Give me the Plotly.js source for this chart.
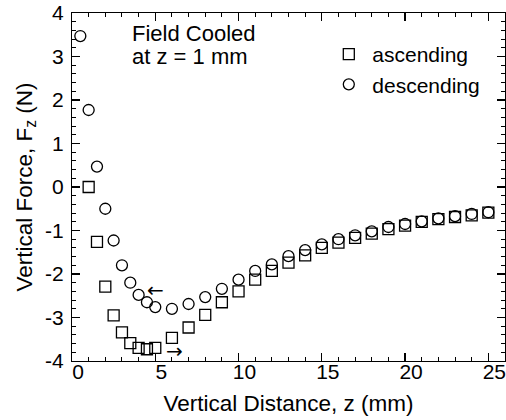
<!DOCTYPE html>
<html>
<head>
<meta charset="utf-8">
<script src="https://cdn.plot.ly/plotly-3.0.1.min.js"></script>
<style>html,body{margin:0;padding:0;background:#fff;}#chart{width:506px;height:420px;}</style>
</head>
<body>
<div id="chart"></div>
<script>
// Ascending (squares)
var ascZ = [1, 1.5, 2, 2.5, 3, 3.5, 4, 4.5, 5, 6, 7, 8, 9, 10, 11, 12, 13, 14, 15, 16, 17, 18, 19, 20, 21, 22, 23, 24, 25];
var ascF = [0, -1.26, -2.29, -2.95, -3.34, -3.59, -3.70, -3.73, -3.70, -3.47, -3.23, -2.94, -2.65, -2.40, -2.13, -1.93, -1.74, -1.57, -1.40, -1.28, -1.17, -1.07, -0.97, -0.89, -0.80, -0.74, -0.69, -0.65, -0.59];
// Descending (circles)
var desZ = [0.5, 1, 1.5, 2, 2.5, 3, 3.5, 4, 4.5, 5, 6, 7, 8, 9, 10, 11, 12, 13, 14, 15, 16, 17, 18, 19, 20, 21, 22, 23, 24, 25];
var desF = [3.47, 1.77, 0.47, -0.50, -1.23, -1.80, -2.20, -2.48, -2.65, -2.76, -2.80, -2.69, -2.53, -2.34, -2.13, -1.93, -1.78, -1.59, -1.45, -1.32, -1.20, -1.11, -1.02, -0.92, -0.85, -0.79, -0.72, -0.67, -0.62, -0.58];
var seriesNames = ["ascending", "descending"];
var xTicks = [0, 5, 10, 15, 20, 25];
var yTicks = [-4, -3, -2, -1, 0, 1, 2, 3, 4];
var noteLines = ["Field Cooled", "at z = 1 mm"];

var FONT = "Liberation Sans, Arial, Helvetica, sans-serif";
var ARROWFONT = "DejaVu Sans, sans-serif";

var traces = [
  {x: ascZ, y: ascF, name: seriesNames[0], type: "scatter", mode: "markers",
   marker: {symbol: "square-open", size: 11, color: "#000", line: {width: 1.3, color: "#000"}}},
  {x: desZ, y: desF, name: seriesNames[1], type: "scatter", mode: "markers",
   marker: {symbol: "circle-open", size: 11, color: "#000", line: {width: 1.3, color: "#000"}}}
];

var axisCommon = {
  showline: true, linecolor: "#000", linewidth: 1.2, mirror: "ticks",
  ticks: "inside", ticklen: 8, tickwidth: 1.2, tickcolor: "#000",
  showgrid: false, zeroline: false, ticklabeloverflow: "allow",
  tickfont: {family: FONT, size: 21, color: "#000"}
};

var layout = {
  width: 506, height: 420,
  margin: {l: 72, r: 1, t: 13, b: 59},
  paper_bgcolor: "#fff", plot_bgcolor: "#fff",
  font: {family: FONT, color: "#000"},
  xaxis: Object.assign({}, axisCommon, {
    range: [0, 26], tickvals: xTicks, ticktext: xTicks.map(String),
    ticklabelshift: 6, ticklabelstandoff: -8,
    minor: {dtick: 1, ticks: "inside", ticklen: 4, tickwidth: 1, tickcolor: "#000"},
    title: {text: "Vertical Distance, z (mm)", font: {family: FONT, size: 22.5, color: "#000"}, standoff: 12}
  }),
  yaxis: Object.assign({}, axisCommon, {
    range: [-4, 4], tickvals: yTicks, ticktext: yTicks.map(String),
    ticklabelstandoff: 3,
    minor: {dtick: 0.2, ticks: "inside", ticklen: 4, tickwidth: 1, tickcolor: "#000"},
    title: {text: "Vertical Force, F<sub>z</sub> (N)", font: {family: FONT, size: 22.5, color: "#000"}, standoff: 6}
  }),
  showlegend: true,
  legend: {x: 0.585, y: 0.94, xanchor: "left", yanchor: "top", bgcolor: "rgba(0,0,0,0)",
           font: {family: FONT, size: 21, color: "#000"}, itemwidth: 37, tracegroupgap: 0},
  annotations: [
    {xref: "paper", yref: "paper", x: 0.133, y: 0.9425, xanchor: "left", yanchor: "middle",
     showarrow: false, text: noteLines[0], font: {family: FONT, size: 22, color: "#000"}},
    {xref: "paper", yref: "paper", x: 0.133, y: 0.8736, xanchor: "left", yanchor: "middle",
     showarrow: false, text: noteLines[1], font: {family: FONT, size: 22, color: "#000"}},
    {xref: "x", yref: "y", x: 5.0, y: -2.36, showarrow: false, text: "\u2190",
     font: {family: ARROWFONT, size: 20, color: "#000"}},
    {xref: "x", yref: "y", x: 6.15, y: -3.76, showarrow: false, text: "\u2192",
     font: {family: ARROWFONT, size: 20, color: "#000"}}
  ]
};

Plotly.newPlot("chart", traces, layout, {displayModeBar: false, staticPlot: true});
</script>
</body>
</html>
